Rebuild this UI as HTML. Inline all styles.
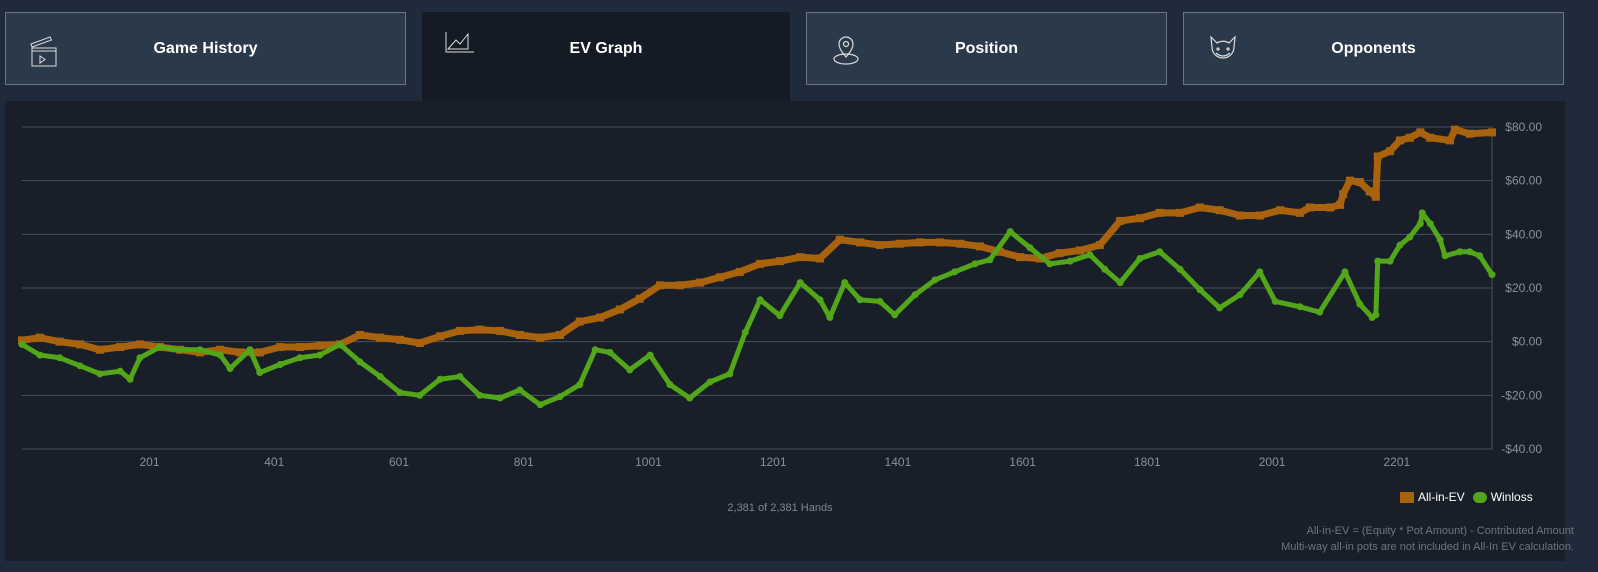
<!DOCTYPE html>
<html><head><meta charset="utf-8">
<style>
html,body{margin:0;padding:0;width:1598px;height:572px;overflow:hidden;background:#1f2b3a;font-family:"Liberation Sans",sans-serif;}
.tab{position:absolute;top:12px;height:73px;background:#2b3a4a;border:1px solid #6c7580;color:#fff;font-weight:bold;font-size:16px;display:flex;align-items:center;justify-content:center;box-sizing:border-box;}
.tab.active{background:#151b24;border:none;height:89px;align-items:flex-start;padding-top:28px;}
.icon{position:absolute;left:22px;top:20px;}
.tab.active .icon{top:18px;}
#panel{position:absolute;left:5px;top:101px;width:1560px;height:460px;background:#181f28;}
</style></head><body>
<div class="tab" style="left:5px;width:401px;">
<svg class="icon" width="34" height="34" viewBox="0 0 34 34" fill="none" stroke="#ddd" stroke-width="1"><path d="M3 11 L22 4 L23.5 7 L4 14 Z"/><rect x="4" y="15" width="24" height="18"/><line x1="4" y1="18" x2="28" y2="18"/><path d="M12 23 L12 30 L17 26.5 Z"/></svg>
Game History</div>
<div class="tab active" style="left:422px;width:368px;">
<svg class="icon" width="34" height="34" viewBox="0 0 34 34" fill="none" stroke="#ddd" stroke-width="1"><path d="M2 2 V22 H30"/><path d="M4 19 L12 10 L16 14 L24 4 L24 19 Z"/></svg>
EV Graph</div>
<div class="tab" style="left:806px;width:361px;">
<svg class="icon" width="34" height="34" viewBox="0 0 34 34" fill="none" stroke="#ddd" stroke-width="1.2"><path d="M17 24 C11 17 10 14 10 11 A7 7 0 0 1 24 11 C24 14 23 17 17 24 Z"/><circle cx="17" cy="11" r="2.5"/><ellipse cx="17" cy="26" rx="12" ry="5"/></svg>
Position</div>
<div class="tab" style="left:1183px;width:381px;">
<svg class="icon" width="34" height="34" viewBox="0 0 34 34" fill="none" stroke="#ddd" stroke-width="1.2"><path d="M5 4 L11 10 A11 11 0 0 1 23 10 L29 4 L28 14 A11 11 0 1 1 6 14 Z"/><path d="M10 20 Q17 26 24 20"/><circle cx="12" cy="16" r="1"/><circle cx="22" cy="16" r="1"/></svg>
Opponents</div>
<div id="panel"></div>
<svg id="chart" width="1598" height="572" style="position:absolute;left:0;top:0"></svg>
<script>
const evHands=[1,30,62,95,127,160,192,224,257,289,322,354,386,419,451,483,516,548,581,613,645,678,710,742,775,807,840,872,904,937,969,1001,1034,1066,1099,1131,1163,1196,1228,1261,1293,1325,1358,1390,1422,1455,1487,1520,1552,1584,1617,1649,1681,1714,1746,1779,1811,1843,1876,1908,1940,1973,2005,2038,2070,2086,2119,2135,2140,2151,2167,2183,2193,2196,2216,2232,2248,2265,2281,2313,2321,2345,2381];
const evValues=[0.5,1.5,0,-1,-3,-2,-1,-2,-3,-4,-3,-4,-4,-2,-2,-1.5,-1,2.5,1.5,0.7,-0.5,2,4,4.5,4,2.5,1.5,2.5,7.5,9,12,16,21,21,22,24,26,29,30,31.5,31,38,37,36,36.5,37,37,36.5,35.5,33.5,31.5,31,33,34,36,45,46,48,48,50,49,47,47,49,48,50,50,51,55,60,59.5,56,54,69,71,75,76,78,76,75,79,77.5,78];
const wlHands=[1,30,62,95,127,160,176,192,224,257,289,322,338,370,386,419,451,483,516,548,581,613,645,678,710,742,775,807,840,872,904,929,953,985,1018,1050,1082,1115,1147,1172,1196,1228,1261,1293,1309,1333,1358,1390,1414,1447,1479,1511,1544,1568,1601,1633,1665,1698,1730,1754,1779,1811,1843,1876,1908,1940,1973,2005,2030,2070,2102,2143,2167,2187,2193,2196,2216,2232,2248,2265,2268,2281,2297,2305,2329,2345,2361,2381];
const wlValues=[-1,-5,-6,-9,-12,-11,-14,-6,-2,-3,-3,-5,-10,-3,-11.5,-8.5,-6,-5,-1,-7.5,-13,-19,-20,-14,-13,-20,-21,-18,-23.5,-20.5,-16,-3,-4,-10.5,-5,-16,-21,-15,-12,3.5,15.6,9.7,22,15.6,9,22,15.6,15,10,17.5,23,26,29,30.5,41,35,29,30,32.4,27,22,31,33.5,27,19.4,12.6,17.5,26,15,13,11,26,14,9,10,30,30,36,39,44,48,44,38,32,33.5,33.5,32,25];
const yTicks=[80,60,40,20,0,-20,-40];
const xTicks=[201,401,601,801,1001,1201,1401,1601,1801,2001,2201];
const X0=22,X1=1492,Y0=127,Y1=449;
const xs=h=>X0+(h-1)*(X1-X0)/2380;
const ys=v=>Y0+(80-v)*(Y1-Y0)/120;
const svg=document.getElementById('chart');
const NS='http://www.w3.org/2000/svg';
function mk(t,a){const e=document.createElementNS(NS,t);for(const k in a)e.setAttribute(k,a[k]);svg.appendChild(e);return e;}
yTicks.forEach(v=>{
 const g=mk('line',{x1:X0,x2:X1,y1:ys(v),y2:ys(v),stroke:'#4a525c','stroke-width':1});
 
 
 const t=mk('text',{x:1542,y:ys(v)+4,'text-anchor':'end','font-size':12,fill:'#8a9099'});
 t.textContent=(v<0?'-$':'$')+Math.abs(v).toFixed(2);
 
 
});
const ax=mk('line',{x1:X1,x2:X1,y1:Y0,y2:Y1,stroke:'#4a525c'});


xTicks.forEach(h=>{
 const t=mk('text',{x:xs(h)+4+(h-201)*0.006,y:466,'text-anchor':'middle','font-size':12,fill:'#8a9099'});
 t.textContent=h;
 
 
});
function series(hs,vs,col,name,sq){
 const pts=hs.map((h,i)=>xs(h)+','+ys(vs[i])).join(' ');
 const pl=mk('polyline',{points:pts,fill:'none',stroke:col,'stroke-width':sq?7:5,'stroke-linejoin':'round','stroke-linecap':'round'});
 
 
 hs.forEach((h,i)=>{
  const m=sq?mk('rect',{x:xs(h)-4,y:ys(vs[i])-4,width:8,height:8,fill:col}):mk('circle',{cx:xs(h),cy:ys(vs[i]),r:3.5,fill:col});
  
  
 });
}
series(evHands,evValues,'#a9620d','all-in-ev',true);
series(wlHands,wlValues,'#53a51a','winloss',false);
</script>
<div style="position:absolute;left:680px;top:502px;width:200px;text-align:center;font-size:11px;color:#80868e;">2,381 of 2,381 Hands</div>
<div style="position:absolute;left:1400px;top:490px;font-size:12px;color:#fff;display:flex;align-items:center;">
<span style="display:inline-block;width:14px;height:11px;background:#a9620d;margin-right:4px;"></span><span>All-in-EV</span>
<span style="display:inline-block;width:14px;height:11px;border-radius:6px;background:#53a51a;margin:0 4px 0 8px;"></span><span>Winloss</span></div>
<div style="position:absolute;right:24px;top:523px;text-align:right;font-size:11px;line-height:16px;color:#6e747c;">All-in-EV = (Equity * Pot Amount) - Contributed Amount<br>Multi-way all-in pots are not included in All-In EV calculation.</div>
</body></html>
